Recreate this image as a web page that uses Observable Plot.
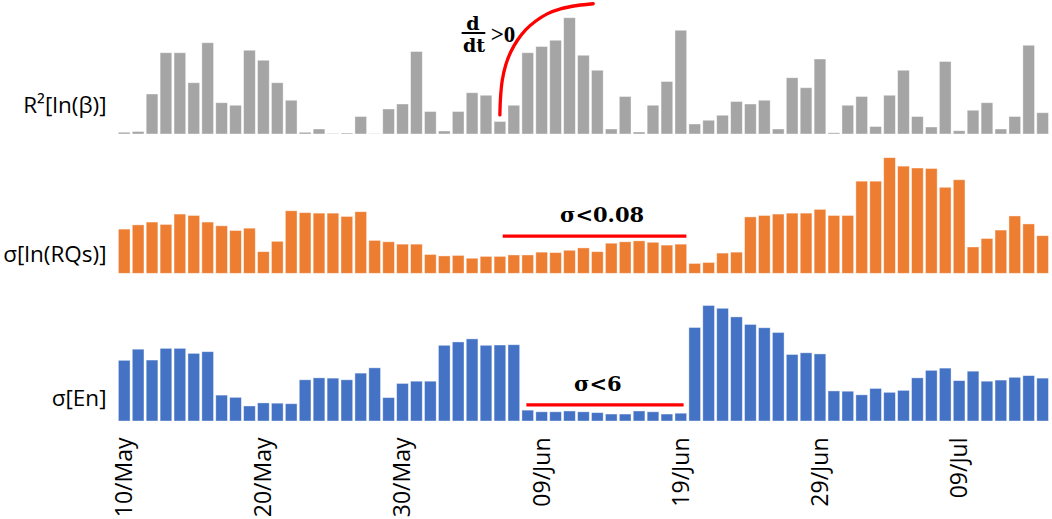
<!DOCTYPE html>
<html><head><meta charset="utf-8">
<script src="https://cdn.jsdelivr.net/npm/d3@7"></script>
<script src="https://cdn.jsdelivr.net/npm/@observablehq/plot@0.6"></script>
<style>
html,body{margin:0;padding:0;background:#fff;}
#chart svg{display:block;}
</style></head><body><div id="chart"></div>
<script>
// ---- data (67 days: 10/May .. 15/Jul) ----
const tickIdx = [0, 10, 20, 30, 40, 50, 60];
const tickLabels = ["10/May", "20/May", "30/May", "09/Jun", "19/Jun", "29/Jun", "09/Jul"];

const r2Beta = [0.014,0.02,0.32,0.65,0.65,0.41,0.73,0.25,0.23,0.67,0.59,0.41,0.27,0.014,0.04,0.003,0.008,0.14,0.002,0.20,
  0.24,0.66,0.18,0.024,0.18,0.33,0.31,0.10,0.23,0.65,0.70,0.75,0.93,0.63,0.51,0.04,0.30,0.016,0.23,0.42,
  0.83,0.08,0.11,0.15,0.26,0.24,0.27,0.04,0.45,0.37,0.60,0.01,0.23,0.30,0.06,0.31,0.51,0.14,0.056,0.58,
  0.026,0.19,0.25,0.04,0.14,0.71,0.17];

const sdLnRQs = [0.094,0.103,0.109,0.104,0.126,0.123,0.109,0.101,0.091,0.096,0.046,0.068,0.133,0.129,0.128,0.128,0.121,0.131,0.070,0.067,
  0.062,0.062,0.040,0.037,0.038,0.032,0.036,0.036,0.039,0.039,0.045,0.044,0.049,0.054,0.046,0.064,0.067,0.069,0.066,0.060,
  0.062,0.021,0.023,0.043,0.045,0.120,0.123,0.126,0.128,0.128,0.136,0.123,0.123,0.196,0.196,0.246,0.228,0.224,0.223,0.183,
  0.199,0.056,0.074,0.092,0.122,0.105,0.080];

const sdEn = [21.8,25.8,21.9,26.1,26.1,24.3,24.9,9.3,8.5,5.4,6.5,6.4,6.2,14.8,15.5,15.4,14.8,17.2,19.1,8.4,
  13.5,14.3,14.3,27.2,28.4,29.5,27.2,27.3,27.4,3.9,3.3,3.3,3.6,3.3,3.0,2.5,2.5,3.6,3.3,2.5,
  2.8,33.6,41.5,40.5,37.4,34.7,33.5,31.8,23.9,24.5,24.1,10.8,10.7,9.4,11.7,10.3,11.0,15.5,18.2,19.0,
  14.5,17.9,14.3,14.7,15.7,16.3,15.4];

// annotation curve (day index, R² value)
const curveDay = [26.96,27.01,27.13,27.37,27.73,28.21,28.81,29.52,30.36,31.32,32.52,33.67];
const curveVal = [0.157,0.299,0.432,0.552,0.658,0.752,0.837,0.906,0.965,1.005,1.032,1.046];

// ---- layout ----
const W = 1052, ML = 116, MR = 2;
const xDomain = [-0.59, 66.53];
const halfW = 0.42;
const sansFont = "'Open Sans', 'Noto Sans', sans-serif";
const serifFont = "'DejaVu Serif', serif";
const serifFont2 = "'Liberation Serif', serif";

function panel({values, color, label, labelDy, height, marginBottom, yMax, extra = [], axis = false}) {
  const data = values.map((v, i) => ({i, v}));
  return Plot.plot({
    width: W, height, marginTop: 0, marginBottom, marginLeft: ML, marginRight: MR,
    x: {type: "linear", domain: xDomain, ...(axis ? {} : {axis: null})},
    y: {domain: [0, yMax], axis: null},
    style: {fontFamily: sansFont, background: "transparent", overflow: "visible", color: "black"},
    marks: [
      Plot.rectY(data, {x1: d => d.i - halfW, x2: d => d.i + halfW, y: "v", fill: color,
        stroke: "white", strokeOpacity: 0.5, strokeWidth: 0.8}),
      Plot.text([label], {text: d => d, frameAnchor: "bottom-left", dx: -10, dy: labelDy,
        textAnchor: "end", lineAnchor: "bottom", fontSize: 22.5, fill: "black"}),
      ...extra,
      axis ? Plot.axisX({ticks: tickIdx, tickFormat: d => tickLabels[tickIdx.indexOf(d)],
        tickRotate: -90, tickSize: 0, tickPadding: 16, fontSize: 23, fill: "black"}) : null
    ]
  });
}

const curve = curveDay.map((d, k) => ({i: d, v: curveVal[k]}));

const p1 = panel({
  values: r2Beta, color: "#A5A5A5", label: "R²[ln(β)]", labelDy: -22,
  height: 140, marginBottom: 6, yMax: 1.072,
  extra: [
    Plot.line(curve, {x: "i", y: "v", stroke: "#FF0000", strokeWidth: 3.3, curve: "catmull-rom"}),
    Plot.text(["d"], {text: d => d, x: 25.03, y: 0.838, lineAnchor: "bottom", fontFamily: serifFont, fontWeight: "bold", fontSize: 19, fill: "black"}),
    Plot.ruleY([0.812], {x1: 24.25, x2: 25.95, stroke: "black", strokeWidth: 2}),
    Plot.text(["dt"], {text: d => d, x: 25.1, y: 0.664, lineAnchor: "bottom", fontFamily: serifFont, fontWeight: "bold", fontSize: 19, fill: "black"}),
    Plot.text([">0"], {text: d => d, x: 26.3, y: 0.738, textAnchor: "start", lineAnchor: "bottom", fontFamily: serifFont2, fontWeight: "bold", fontSize: 23, fill: "black"})
  ]
});

const p2 = panel({
  values: sdLnRQs, color: "#ED7D31", label: "σ[ln(RQs)]", labelDy: -11.6,
  height: 140, marginBottom: 6.7, yMax: 0.2836,
  extra: [
    Plot.ruleY([0.08], {x1: 27.2, x2: 40.4, stroke: "#FF0000", strokeWidth: 3.2}),
    Plot.text(["σ<0.08"], {text: d => d, x: 34.3, y: 0.111, lineAnchor: "bottom", fontFamily: serifFont, fontWeight: "bold", fontSize: 21, fill: "black"})
  ]
});

const p3 = panel({
  values: sdEn, color: "#4472C4", label: "σ[En]", labelDy: -15.3,
  height: 239, marginBottom: 98, yMax: 50.66, axis: true,
  extra: [
    Plot.ruleY([6], {x1: 28.9, x2: 40.2, stroke: "#FF0000", strokeWidth: 3.2}),
    Plot.text(["σ<6"], {text: d => d, x: 34.0, y: 11.1, lineAnchor: "bottom", fontFamily: serifFont, fontWeight: "bold", fontSize: 21, fill: "black"})
  ]
});

const root = document.getElementById("chart");
root.append(p1, p2, p3);
</script>
</body></html>
